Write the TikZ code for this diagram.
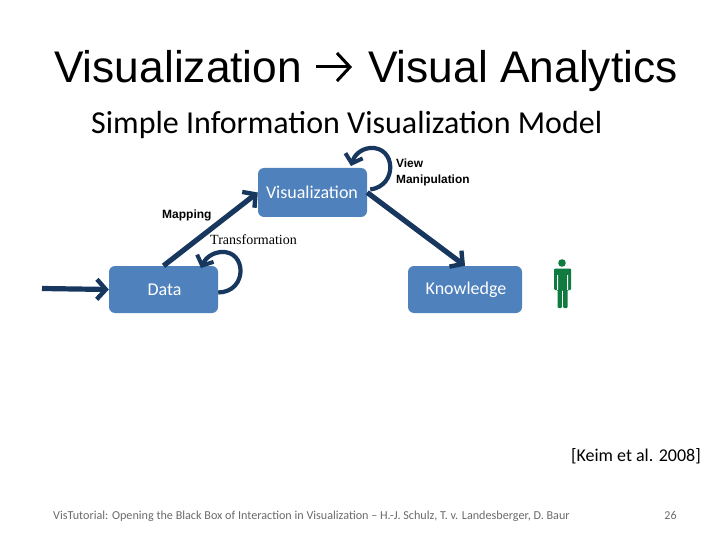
\documentclass[tikz,border=0pt]{standalone}
\usepackage{fontspec}
\setmainfont{Carlito}
\newfontfamily\arialf{Liberation Sans}
\newfontfamily\timesf{Liberation Serif}
\usetikzlibrary{arrows.meta}
\definecolor{boxblue}{HTML}{4F81BD}
\definecolor{arrowblue}{HTML}{17375E}
\definecolor{persongreen}{HTML}{0F7B3F}
\definecolor{footgray}{HTML}{6A6A6A}
\tikzset{
  stagebox/.style={draw=none,fill=boxblue,rounded corners=6pt,inner sep=0pt},
  boxtext/.style={text=white,inner sep=0pt,font=\fontsize{18}{20}\selectfont},
  flowarrow/.style={draw=arrowblue,line width=5.2pt,-{Straight Barb[length=9pt,width=20pt,line width=4.4pt]}},
  looparrow/.style={draw=arrowblue,line width=4.2pt,-{Straight Barb[length=8pt,width=18pt,line width=4pt]}},
  label/.style={inner sep=0pt,anchor=west,align=left},
  titletext/.style={inner sep=0pt,anchor=base west,font=\arialf\fontsize{44.3}{48}\selectfont},
}
\begin{document}
\begin{tikzpicture}[x=1pt,y=-1pt]
\useasboundingbox (0,0) rectangle (720,540);
\node[titletext] (title) at (54,83) {Visualization};
\node[titletext] (title2) at (368,83) {Visual Analytics};
\coordinate (tarrowa) at (316,67);
\coordinate (tarrowb) at (352,67);
\draw[draw=black,line width=3pt,-{Straight Barb[length=13pt,width=28pt,line width=3pt]}] (tarrowa) -- (tarrowb);
\node[label,font=\fontsize{32}{34}\selectfont] (sub) at (91,125) {Simple Information Visualization Model};
\node[stagebox,minimum width=109pt,minimum height=49pt] (vis) at (312.5,192.5) {};
\node[stagebox,minimum width=109pt,minimum height=47pt] (data) at (163.5,289.5) {};
\node[stagebox,minimum width=114pt,minimum height=47pt] (know) at (465,289.5) {};
\node[boxtext] (vistext) at (312,192.5) {Visualization};
\node[boxtext] (datatext) at (164.5,290) {Data};
\node[boxtext] (knowtext) at (466,290) {Knowledge};
\coordinate (src) at (42,288.5);
\draw[flowarrow] (src) -- (data.west);
\draw[flowarrow] (data.north) -- (vis.west);
\draw[flowarrow] (vis.east) -- (know.north);
\draw[looparrow] (vis.east) ++(3,-3) .. controls (398,186) and (396,146) .. (370,148) .. controls (360,149) and (354,156) .. (351,166);
\draw[looparrow] (data.east) ++(0,3) .. controls (248,292) and (247,250) .. (221,252) .. controls (211,253) and (205,259) .. (201,268);
\node[label,font=\arialf\bfseries\fontsize{11.9}{16}\selectfont] (viewl) at (396,172) {View\\Manipulation};
\node[label,font=\arialf\bfseries\fontsize{12}{13}\selectfont] (mapl) at (162,215.5) {Mapping};
\node[label,font=\timesf\fontsize{14}{15}\selectfont] (transl) at (210,240) {Transformation};
% person
\fill[persongreen] (562,263) circle (3.8pt);
\fill[persongreen,rounded corners=1pt] (554,268.5) -- (571,268.5) -- (571,290) -- (567.5,290) -- (567.5,308) -- (563.2,308) -- (563.2,290) -- (561.8,290) -- (561.8,308) -- (557.5,308) -- (557.5,290) -- (554,290) -- cycle;
\fill[white] (557,275) rectangle (558,290) (567,275) rectangle (568,290);
\node[anchor=east,inner sep=0pt,font=\fontsize{18}{20}\selectfont] (cite) at (701,456) {[Keim et al. 2008]};
\node[label,text=footgray,font=\fontsize{12.15}{14}\selectfont] (foot) at (53,516) {VisTutorial: Opening the Black Box of Interaction in Visualization -- H.-J. Schulz, T. v. Landesberger, D. Baur};
\node[text=footgray,inner sep=0pt,font=\fontsize{12}{14}\selectfont] (page) at (670.5,515) {26};
\end{tikzpicture}
\end{document}
